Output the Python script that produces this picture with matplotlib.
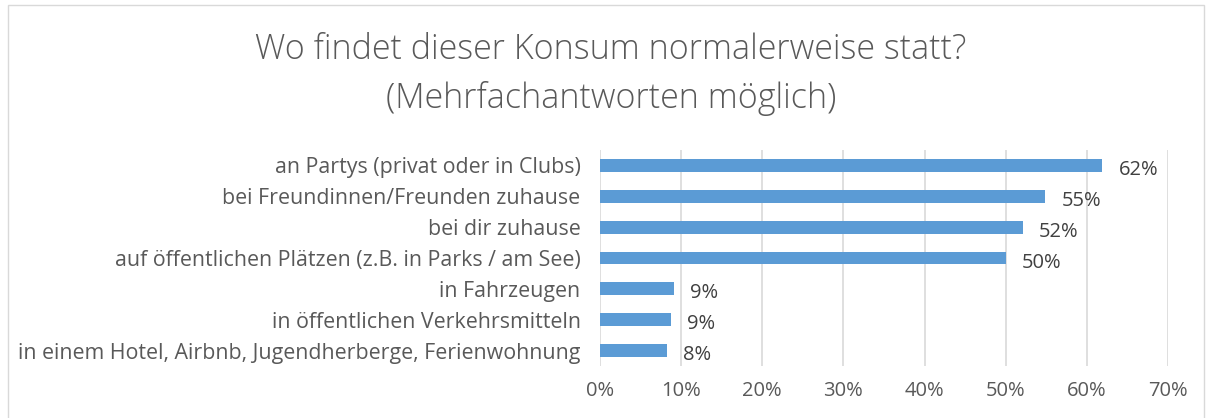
import matplotlib.pyplot as plt
from matplotlib.patches import Rectangle

categories = [
    "an Partys (privat oder in Clubs)",
    "bei Freundinnen/Freunden zuhause",
    "bei dir zuhause",
    "auf öffentlichen Plätzen (z.B. in Parks / am See)",
    "in Fahrzeugen",
    "in öffentlichen Verkehrsmitteln",
    "in einem Hotel, Airbnb, Jugendherberge, Ferienwohnung",
]
values = [61.9, 54.9, 52.1, 50.0, 9.1, 8.7, 8.2]
value_labels = ["62%", "55%", "52%", "50%", "9%", "9%", "8%"]
xticks = [0, 10, 20, 30, 40, 50, 60, 70]

plt.rcParams["font.family"] = ["Open Sans", "DejaVu Sans"]

BAR = "#5B9BD5"
TXT = "#595959"
GRID = "#D9D9D9"

fig = plt.figure(figsize=(12.1, 4.18), dpi=100)
ax = fig.add_axes([600 / 1210, 1 - 366 / 418, 568 / 1210, 216 / 418])

ypos = list(range(len(categories)))
ax.barh(ypos, values, height=0.42, color=BAR, zorder=3)
for y, v, lab in zip(ypos, values, value_labels):
    ax.text(v + 2.0, y + 0.15, lab, va="center", ha="left", fontsize=14.5, color="#404040")

ax.set_xlim(0, 70)
ax.set_ylim(len(categories) - 0.5, -0.5)
ax.set_xticks(xticks)
ax.set_xticklabels([f"{t}%" for t in xticks], fontsize=14.5, color=TXT)
ax.set_yticks(ypos)
ax.set_yticklabels(categories, fontsize=15.4, color=TXT)
ax.tick_params(length=0, pad=11, axis="x")
ax.tick_params(length=0, pad=14, axis="y")
ax.grid(axis="x", color=GRID, lw=1.2, zorder=0)
for s in ax.spines.values():
    s.set_visible(False)

fig.text(611 / 1210, 1 - 50 / 418, "Wo findet dieser Konsum normalerweise statt?",
         ha="center", va="center", fontsize=24.5, color=TXT, fontweight="light")
fig.text(611 / 1210, 1 - 98 / 418, "(Mehrfachantworten möglich)",
         ha="center", va="center", fontsize=24.5, color=TXT, fontweight="light")

# chart frame
fig.patches.append(Rectangle((8 / 1210, -0.01), 1196 / 1210, 1 - 5 / 418 + 0.01,
                             transform=fig.transFigure, fill=False,
                             edgecolor="#D9D9D9", lw=1))

fig.savefig("out.png", dpi=100)
